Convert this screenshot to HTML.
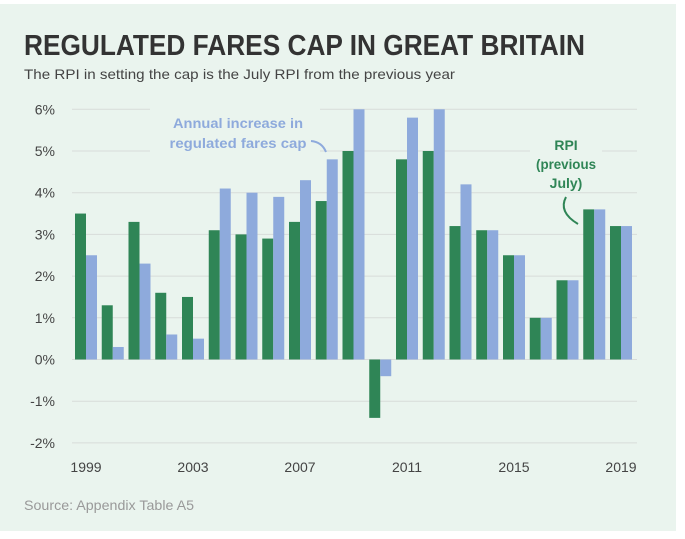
<!DOCTYPE html>
<html><head><meta charset="utf-8"><style>
html,body{margin:0;padding:0;background:#fff}
svg{display:block;font-family:"Liberation Sans",sans-serif}
</style></head><body>
<svg id="chart" width="685" height="539">
<rect x="0" y="4" width="676" height="527" fill="#eaf4ee"/>
<text x="24" y="55" font-size="29" font-weight="bold" fill="#333" textLength="561" lengthAdjust="spacingAndGlyphs">REGULATED FARES CAP IN GREAT BRITAIN</text>
<text x="24" y="79" font-size="14" fill="#444" textLength="431" lengthAdjust="spacingAndGlyphs">The RPI in setting the cap is the July RPI from the previous year</text>
<g id="grid"></g><g id="bars"></g><g id="xlabels"></g>
<rect x="150" y="106" width="170" height="54" fill="#eaf4ee"/>
<text x="238" y="128" font-size="14" font-weight="bold" fill="#8eaadc" text-anchor="middle" textLength="130" lengthAdjust="spacingAndGlyphs">Annual increase in</text>
<text x="238" y="148" font-size="14" font-weight="bold" fill="#8eaadc" text-anchor="middle" textLength="137" lengthAdjust="spacingAndGlyphs">regulated fares cap</text>
<path d="M311 141 Q322 142 326 152" stroke="#8eaadc" stroke-width="2" fill="none"/>
<rect x="530" y="130" width="72" height="62" fill="#eaf4ee"/>
<text x="566" y="150" font-size="14" font-weight="bold" fill="#2f8556" text-anchor="middle">RPI</text>
<text x="566" y="169" font-size="14" font-weight="bold" fill="#2f8556" text-anchor="middle" textLength="60" lengthAdjust="spacingAndGlyphs">(previous</text>
<text x="566" y="188" font-size="14" font-weight="bold" fill="#2f8556" text-anchor="middle">July)</text>
<path d="M566 197 Q558 212 578 224" stroke="#2f8556" stroke-width="2" fill="none"/>
<text x="24" y="510" font-size="14" fill="#999" textLength="170" lengthAdjust="spacingAndGlyphs">Source: Appendix Table A5</text>
</svg>
<script>
const years=[1999,2000,2001,2002,2003,2004,2005,2006,2007,2008,2009,2010,2011,2012,2013,2014,2015,2016,2017,2018,2019];
const rpi=[3.5,1.3,3.3,1.6,1.5,3.1,3.0,2.9,3.3,3.8,5.0,-1.4,4.8,5.0,3.2,3.1,2.5,1.0,1.9,3.6,3.2];
const fares=[2.5,0.3,2.3,0.6,0.5,4.1,4.0,3.9,4.3,4.8,6.0,-0.4,5.8,6.0,4.2,3.1,2.5,1.0,1.9,3.6,3.2];
const yTicks=[6,5,4,3,2,1,0,-1,-2];
const xTickYears=[1999,2003,2007,2011,2015,2019];
const NS='http://www.w3.org/2000/svg';
const y=v=>359.5-v*41.7;
const x=i=>75+i*26.75;
const bw=11;
function mk(t,a,p){const e=document.createElementNS(NS,t);for(const k in a)e.setAttribute(k,a[k]);p.appendChild(e);return e;}
const grid=document.getElementById('grid'),bars=document.getElementById('bars'),xl=document.getElementById('xlabels');
yTicks.forEach(v=>{
 const l=mk('line',{x1:72,x2:637,y1:y(v),y2:y(v),stroke:'#d8dcd9','stroke-width':1},grid);
 
 
 const t=mk('text',{x:55,y:y(v)+5,'font-size':14,fill:'#444','text-anchor':'end'},grid);
 t.textContent=v+'%';
 
 
});
years.forEach((yr,i)=>{
 const g=mk('rect',{x:x(i),y:Math.min(y(rpi[i]),y(0)),width:bw,height:Math.abs(y(rpi[i])-y(0)),fill:'#2f8556'},bars);
 
 
 const b=mk('rect',{x:x(i)+bw,y:Math.min(y(fares[i]),y(0)),width:bw,height:Math.abs(y(fares[i])-y(0)),fill:'#8eaadc'},bars);
 
 
});
xTickYears.forEach(yr=>{
 const i=years.indexOf(yr);
 const t=mk('text',{x:x(i)+bw,y:472,'font-size':14,fill:'#444','text-anchor':'middle'},xl);
 t.textContent=yr;
 
 
});
</script>
</body></html>
